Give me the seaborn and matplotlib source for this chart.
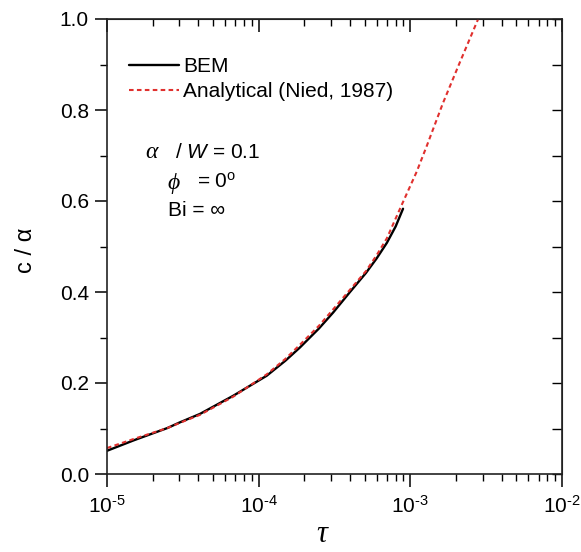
import matplotlib
matplotlib.use("Agg")
import matplotlib.pyplot as plt
import numpy as np
import pandas as pd
import seaborn as sns
from matplotlib.ticker import FixedLocator, LogLocator, NullFormatter

# values
bem_tau = [1e-5, 1.5e-5, 2.5e-5, 3e-5, 4.1e-5, 6.8e-5, 1.13e-4, 1.5e-4, 1.87e-4,
           2.5e-4, 3.1e-4, 4e-4, 5.1e-4, 6e-4, 7e-4, 8e-4, 8.95e-4]
bem_c = [0.051, 0.074, 0.101, 0.113, 0.132, 0.172, 0.216, 0.249, 0.278,
         0.320, 0.355, 0.400, 0.442, 0.474, 0.508, 0.544, 0.583]

ana_tau = [1e-5, 1.5e-5, 2.5e-5, 3e-5, 4.1e-5, 6.8e-5, 1.13e-4, 1.5e-4, 1.87e-4,
           2.5e-4, 3.1e-4, 4e-4, 5.1e-4, 6e-4, 7e-4, 8.9e-4, 1.1e-3, 1.28e-3,
           1.64e-3, 2.11e-3, 2.8e-3]
ana_c = [0.057, 0.077, 0.101, 0.112, 0.130, 0.170, 0.219, 0.253, 0.284,
         0.326, 0.362, 0.405, 0.446, 0.481, 0.518, 0.596, 0.664, 0.72,
         0.815, 0.903, 1.0]

x_ticks = [1e-5, 1e-4, 1e-3, 1e-2]
x_labels = [r"10$^{\text{-}5}$", r"10$^{\text{-}4}$", r"10$^{\text{-}3}$", r"10$^{\text{-}2}$"]
y_ticks = [0.0, 0.2, 0.4, 0.6, 0.8, 1.0]

sns.set_style("ticks")
plt.rcParams["font.family"] = ["Liberation Sans", "DejaVu Sans"]
plt.rcParams["mathtext.fontset"] = "custom"
plt.rcParams["mathtext.rm"] = "Liberation Sans"
plt.rcParams["mathtext.it"] = "Liberation Sans:italic"
for key in ["text.color", "axes.labelcolor", "xtick.color", "ytick.color"]:
    plt.rcParams[key] = "black"

W, H = 581, 552
fig = plt.figure(figsize=(W / 100, H / 100), dpi=100)
ax = fig.add_axes([107 / W, 1 - 474 / H, (562 - 107) / W, (474 - 19) / H])

bem = pd.DataFrame({"tau": bem_tau, "c": bem_c})
ana = pd.DataFrame({"tau": ana_tau, "c": ana_c})

sns.lineplot(data=bem, x="tau", y="c", ax=ax, color="black", lw=1.7, label="BEM")
sns.lineplot(data=ana, x="tau", y="c", ax=ax, color="#e0302e", lw=1.5,
             label="Analytical (Nied, 1987)")
ax.lines[1].set_dashes([2.2, 1.6])

ax.set_xscale("log")
ax.set_xlim(1e-5, 1e-2)
ax.set_ylim(0, 1)
ax.set_xticks(x_ticks, labels=x_labels)
ax.set_yticks(y_ticks, labels=[f"{v:.1f}" for v in y_ticks])
ax.yaxis.set_minor_locator(FixedLocator([0.1, 0.3, 0.5, 0.7, 0.9]))
ax.xaxis.set_minor_locator(LogLocator(base=10, subs=np.arange(2, 10)))
ax.xaxis.set_minor_formatter(NullFormatter())
ax.set_xlabel("")
ax.set_ylabel("")

for s in ax.spines.values():
    s.set_linewidth(1.2)
    s.set_color("#222222")
ax.tick_params(which="major", direction="out", length=9, width=1.1, labelsize=15, pad=4)
ax.tick_params(which="minor", direction="out", length=5, width=1.0)
ax.tick_params(axis="x", which="major", pad=6)

# inward ticks on top and right
top = ax.secondary_xaxis("top")
top.set_xticks(x_ticks)
top.xaxis.set_minor_locator(LogLocator(base=10, subs=np.arange(2, 10)))
top.tick_params(which="major", direction="in", length=9, width=1.1, labeltop=False)
top.tick_params(which="minor", direction="in", length=5, width=1.0)
top.xaxis.set_minor_formatter(NullFormatter())
right = ax.secondary_yaxis("right")
right.set_yticks(np.round(np.arange(0, 1.01, 0.1), 1))
right.tick_params(direction="in", length=7, width=1.0, labelright=False)

leg = ax.legend(loc="upper left", bbox_to_anchor=(0.03, 0.935), frameon=False,
                fontsize=15, handlelength=2.4, handletextpad=0.2, labelspacing=0.3,
                borderaxespad=0)

# annotations
serif_it = dict(family=["Liberation Serif", "DejaVu Serif"], style="italic")
fig.text(145 / W, 1 - 153 / H, "α", fontsize=17, va="center", **serif_it)
fig.text(175 / W, 1 - 153 / H, r"/ $W$ = 0.1", fontsize=15, va="center")
fig.text(167 / W, 1 - 183 / H, "ϕ", fontsize=17, va="center", **serif_it)
fig.text(197 / W, 1 - 182 / H, r"= 0$^{\mathrm{o}}$", fontsize=15, va="center")
fig.text(168 / W, 1 - 210 / H, "Bi = ∞", fontsize=15, va="center")

fig.text(26 / W, 1 - 250 / H, "c / α", fontsize=17, rotation=90, va="center", ha="center")
fig.text(322 / W, 1 - 534 / H, "τ", fontsize=22, va="center", ha="center", **serif_it)

fig.savefig("out.png", dpi=100)
